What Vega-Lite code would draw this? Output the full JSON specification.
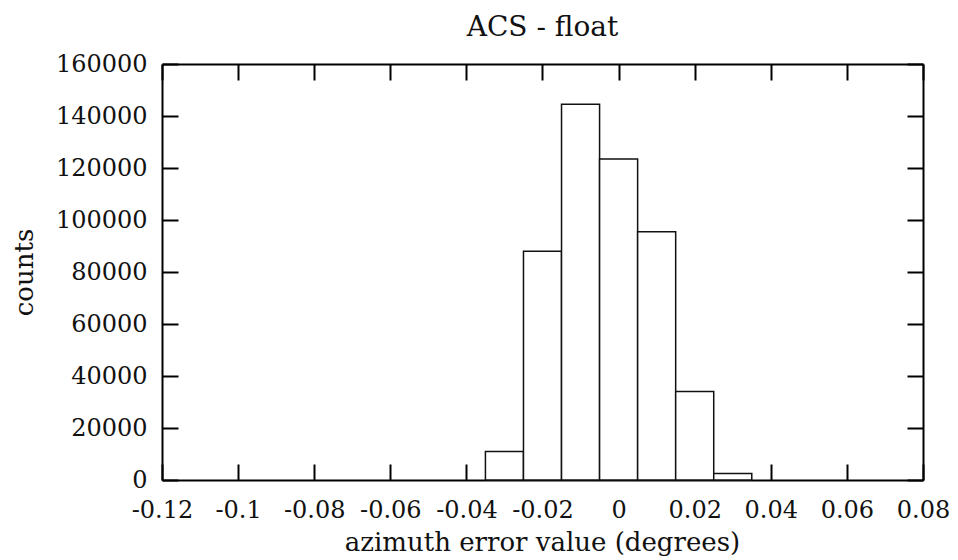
{
  "$schema": "https://vega.github.io/schema/vega-lite/v6.json",
  "width": 761,
  "height": 416,
  "autosize": {"type": "none"},
  "padding": {"left": 162, "top": 64, "right": 35, "bottom": 80},
  "background": "white",
  "config": {
    "font": "DejaVu Serif",
    "view": {"stroke": null},
    "axis": {
      "domainColor": "#000",
      "domainWidth": 2,
      "tickColor": "#000",
      "tickWidth": 2,
      "tickSize": -16,
      "grid": false,
      "labelFont": "DejaVu Serif",
      "labelFontSize": 24,
      "labelColor": "#111",
      "titleFont": "DejaVu Serif",
      "titleFontSize": 26,
      "titleFontWeight": "normal",
      "titleColor": "#111",
      "zindex": 1
    }
  },
  "data": {
    "values": [
      {"lo": -0.035, "hi": -0.025, "count": 11000},
      {"lo": -0.025, "hi": -0.015, "count": 88000},
      {"lo": -0.015, "hi": -0.005, "count": 144500},
      {"lo": -0.005, "hi": 0.005, "count": 123500},
      {"lo": 0.005, "hi": 0.015, "count": 95500},
      {"lo": 0.015, "hi": 0.025, "count": 34000},
      {"lo": 0.025, "hi": 0.035, "count": 2500}
    ]
  },
  "layer": [
    {
      "mark": {"type": "bar", "fill": "white", "stroke": "#111", "strokeWidth": 1.5},
      "encoding": {
        "x": {
          "field": "lo",
          "type": "quantitative",
          "scale": {"domain": [-0.12, 0.08], "nice": false, "zero": false},
          "axis": {
            "orient": "bottom",
            "values": [-0.12, -0.1, -0.08, -0.06, -0.04, -0.02, 0, 0.02, 0.04, 0.06, 0.08],
            "labelExpr": "'' + datum.value",
            "labelPadding": 34,
            "labelBaseline": "top",
            "labelFlush": false,
            "title": "azimuth error value (degrees)",
            "titleBaseline": "alphabetic",
            "titleY": 70,
            "titleX": 380
          }
        },
        "x2": {"field": "hi"},
        "y": {
          "field": "count",
          "type": "quantitative",
          "scale": {"domain": [0, 160000], "nice": false},
          "axis": {
            "orient": "left",
            "values": [0, 20000, 40000, 60000, 80000, 100000, 120000, 140000, 160000],
            "format": "d",
            "labelPadding": 31,
            "labelFlush": false,
            "title": "counts",
            "titleAngle": -90,
            "titleBaseline": "alphabetic",
            "titleAlign": "center",
            "titleX": -130,
            "titleY": 208
          }
        },
        "y2": {"datum": 0}
      }
    },
    {
      "mark": {"type": "bar", "opacity": 0},
      "encoding": {
        "x": {
          "field": "lo",
          "type": "quantitative",
          "axis": {
            "orient": "top",
            "values": [-0.12, -0.1, -0.08, -0.06, -0.04, -0.02, 0, 0.02, 0.04, 0.06, 0.08],
            "labels": false,
            "title": "ACS - float",
            "titleFontSize": 28,
            "titleBaseline": "alphabetic",
            "titleAlign": "center",
            "titleX": 380,
            "titleY": -29
          }
        },
        "x2": {"field": "hi"},
        "y": {
          "field": "count",
          "type": "quantitative",
          "axis": {
            "orient": "right",
            "values": [0, 20000, 40000, 60000, 80000, 100000, 120000, 140000, 160000],
            "labels": false,
            "title": null
          }
        },
        "y2": {"datum": 0}
      }
    }
  ],
  "resolve": {"axis": {"x": "independent", "y": "independent"}}
}
